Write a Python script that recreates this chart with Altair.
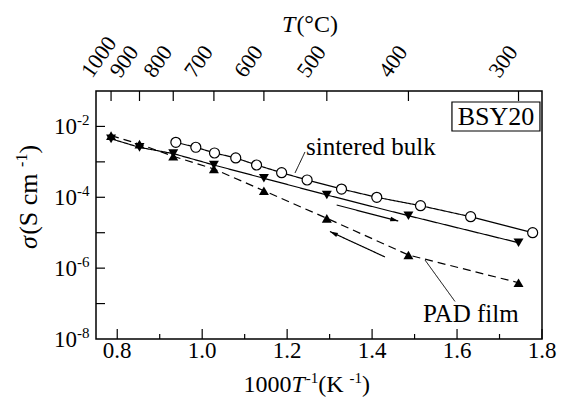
import altair as alt
import pandas as pd
import math

FONT = "Liberation Serif"
W, H = 446, 248
X0, X1 = 0.75, 1.8
LOG0, LOG1 = -8, -1
SX = W / (X1 - X0)
SY = H / (LOG1 - LOG0)

# ---------------- data ----------------
# sintered bulk (open circles)
bulk_x = [0.938, 0.985, 1.029, 1.079, 1.128, 1.187, 1.247, 1.328, 1.411, 1.514, 1.632, 1.778]
bulk_sigma = [3.56e-3, 2.58e-3, 1.78e-3, 1.29e-3, 8.15e-4, 4.94e-4, 3.08e-4,
              1.71e-4, 1.00e-4, 5.79e-5, 2.83e-5, 1.00e-5]

# PAD film, measured at these temperatures (deg C)
film_T = [1000, 900, 800, 700, 600, 500, 400, 300]
film_down_sigma = [4.47e-3, 2.57e-3, 1.71e-3, 8.15e-4, 3.44e-4, 1.16e-4, 3.02e-5, 5.22e-6]   # solid, down triangles
film_up_sigma = [5.50e-3, 3.16e-3, 1.44e-3, 6.28e-4, 1.53e-4, 2.55e-5, 2.35e-6, 3.88e-7]     # dashed, up triangles

# axes
top_T_ticks = [1000, 900, 800, 700, 600, 500, 400, 300]
x_major = [0.8, 1.0, 1.2, 1.4, 1.6, 1.8]
x_minor = [0.9, 1.1, 1.3, 1.5, 1.7]
y_label_exp = [-2, -4, -6, -8]
y_tick_exp = [-2, -3, -4, -5, -6, -7]

# annotations (data coordinates)
arrow_id = ["heat", "heat", "cool", "cool"]
arrow_x = [1.3166, 1.4616, 1.4303, 1.3007]
arrow_sigma = [6.05e-5, 2.14e-5, 2.07e-6, 1.08e-5]
leader_id = ["bulk", "bulk", "pad", "pad"]
leader_x = [1.242, 1.2185, 1.5245, 1.5951]
leader_sigma = [1.90e-3, 4.85e-4, 1.70e-6, 1.15e-7]
label_text = ["sintered bulk", "PAD film"]
label_x = [1.2443, 1.5198]
label_sigma = [2.62e-3, 5.08e-8]
box_text = ["BSY20"]
box_cx = [1.6916]
box_csigma = [1.85e-2]
box_x1, box_x2 = [1.588], [1.7952]
box_s1, box_s2 = [4.90e-2], [7.43e-3]

# ---------------- helpers ----------------
xs = alt.Scale(domain=[X0, X1], zero=False, nice=False)
ys = alt.Scale(type="log", domain=[1e-8, 1e-1], nice=False)


def tx(T):
    return 1000.0 / (T + 273.15)


def px2x(px):
    return X0 + px / SX


def py2s(py):
    return 10 ** (LOG1 - py / SY)


def XE(f="x"):
    return alt.X(f + ":Q", scale=xs, axis=None)


def YE(f="s"):
    return alt.Y(f + ":Q", scale=ys, axis=None)


# ---- all lines in one layer ----
line_rows = []
for i, (x, s) in enumerate(zip(bulk_x, bulk_sigma)):
    line_rows.append(dict(id="bulk", i=i, x=x, s=s, dash="solid", sw=1.2))
for i, (T, s) in enumerate(zip(film_T, film_down_sigma)):
    line_rows.append(dict(id="down", i=i, x=tx(T), s=s, dash="solid", sw=1.2))
for i, (T, s) in enumerate(zip(film_T, film_up_sigma)):
    line_rows.append(dict(id="up", i=i, x=tx(T), s=s, dash="dashed", sw=1.2))
for i, (k, x, s) in enumerate(zip(arrow_id, arrow_x, arrow_sigma)):
    line_rows.append(dict(id="arr_" + k, i=i, x=x, s=s, dash="solid", sw=1.2))
for i, (k, x, s) in enumerate(zip(leader_id, leader_x, leader_sigma)):
    line_rows.append(dict(id="lead_" + k, i=i, x=x, s=s, dash="solid", sw=1.0))
lines = alt.Chart(pd.DataFrame(line_rows)).mark_line(color="black").encode(
    x=XE(), y=YE(), detail="id:N", order="i:Q",
    strokeDash=alt.StrokeDash("dash:N", scale=alt.Scale(domain=["solid", "dashed"], range=[[1, 0], [8, 5]]),
                              legend=None),
    strokeWidth=alt.StrokeWidth("sw:Q", scale=None))

# ---- filled symbols (triangles + arrow heads) in one layer ----
HEAD = "M0,0L0.55,2L-0.55,2Z"
pt_rows = []
for T, s in zip(film_T, film_down_sigma):
    pt_rows.append(dict(x=tx(T), s=s, shape="triangle-down", size=100, ang=0))
for T, s in zip(film_T, film_up_sigma):
    pt_rows.append(dict(x=tx(T), s=s, shape="triangle-up", size=100, ang=0))
for i in range(0, len(arrow_x), 2):
    dxp = (arrow_x[i + 1] - arrow_x[i]) * SX
    dyp = -(math.log10(arrow_sigma[i + 1]) - math.log10(arrow_sigma[i])) * SY
    ang = math.degrees(math.atan2(dxp, -dyp)) % 360
    pt_rows.append(dict(x=arrow_x[i + 1], s=arrow_sigma[i + 1], shape=HEAD, size=64, ang=ang))
filled_pts = alt.Chart(pd.DataFrame(pt_rows)).mark_point(filled=True, color="black", opacity=1,
                                                         strokeWidth=0).encode(
    x=XE(), y=YE(), shape=alt.Shape("shape:N", scale=None), size=alt.Size("size:Q", scale=None),
    angle=alt.Angle("ang:Q", scale=None))

circles = alt.Chart(pd.DataFrame({"x": bulk_x, "s": bulk_sigma})).mark_point(
    shape="circle", filled=True, fill="white", stroke="black", strokeWidth=1.2, size=100, opacity=1
).encode(x=XE(), y=YE())

# ---- BSY20 box ----
box = alt.Chart(pd.DataFrame({"x1": box_x1, "x2": box_x2, "s1": box_s1, "s2": box_s2})).mark_rect(
    fill="white", stroke="black", strokeWidth=1.2).encode(x=XE("x1"), x2="x2:Q", y=YE("s1"), y2="s2:Q")

# ---- all inward ticks in one rule layer ----
rule_rows = []
for v in x_major:
    rule_rows.append(dict(x=v, x2=v, s=py2s(H), s2=py2s(H - 10)))
for v in x_minor:
    rule_rows.append(dict(x=v, x2=v, s=py2s(H), s2=py2s(H - 5)))
for e in y_tick_exp:
    rule_rows.append(dict(x=X0, x2=px2x(9), s=10.0 ** e, s2=10.0 ** e))
for T in top_T_ticks:
    rule_rows.append(dict(x=tx(T), x2=tx(T), s=py2s(0), s2=py2s(10)))
ticks = alt.Chart(pd.DataFrame(rule_rows)).mark_rule(color="black", strokeWidth=1.2).encode(
    x=XE(), x2="x2:Q", y=YE(), y2="s2:Q")

# ---- texts ----
WID = {'0': .5, '1': .5, '2': .5, '3': .5, '4': .5, '5': .5, '6': .5, '7': .5, '8': .5, '9': .5,
       '.': .25, ' ': .25, '(': .333, ')': .333, '-': .333, 'K': .722, 'S': .556, 'c': .444,
       'm': .778, 'C': .667, '°': .4, 'T': .556, 'σ': .55}

g_center, g_left, g_right, g_alpha, g_italic = [], [], [], [], []

# bottom tick labels
for v in x_major:
    g_center.append(dict(t=f"{v:.1f}", x=v, s=py2s(H + 12), size=23, ang=0))
# BSY20
for t, x, s in zip(box_text, box_cx, box_csigma):
    g_center.append(dict(t=t, x=x, s=s, size=26, ang=0))
# annotation labels
for t, x, s in zip(label_text, label_x, label_sigma):
    g_left.append(dict(t=t, x=x, s=s, size=25, ang=0))
# y tick labels: "10" + raised exponent
for e in y_label_exp:
    g_right.append(dict(t="10", x=px2x(-19), s=10.0 ** e * 10 ** (-1 / SY), size=23, ang=0))
    g_left.append(dict(t=str(e), x=px2x(-19), s=10.0 ** e * 10 ** (6 / SY), size=15, ang=0))
# rotated temperature labels
for T in top_T_ticks:
    g_alpha.append(dict(t=str(T), x=tx(T) - 19 / SX, s=py2s(-12), size=22, ang=305))


def add_runs(runs, cx, cy, angle=0):
    total = sum(sum(WID[c] for c in t) * sz + extra for t, sz, it, dy, extra in runs)
    pos = -total / 2
    for t, sz, it, dy, extra in runs:
        if angle == 0:
            px, py = cx + pos, cy + dy
        else:
            px, py = cx + dy, cy - pos
        row = dict(t=t, x=px2x(px), s=py2s(py), size=sz, ang=angle)
        (g_italic if it else g_alpha).append(row)
        pos += sum(WID[c] for c in t) * sz + extra


add_runs([("1000", 24, False, 0, 0), ("T", 24, True, 0, 1), ("-1", 15, False, -9, 0),
          (" (K", 24, False, 0, 0), ("-1", 15, False, -9, 0), (")", 24, False, 0, 0)], 210.7, 301)
add_runs([("T", 24, True, 0, 1), (" (°C)", 24, False, 0, 0)], 217, -59)
add_runs([("σ", 26, True, 0, 0), (" (S cm", 26, False, 0, 0), ("-1", 16, False, -10, 0),
          (")", 26, False, 0, 0)], -59.4, 106, angle=270)


def text_layer(rows, **kw):
    return alt.Chart(pd.DataFrame(rows)).mark_text(font=FONT, fill="black", **kw).encode(
        x=XE(), y=YE(), text="t:N", size=alt.Size("size:Q", scale=None),
        angle=alt.Angle("ang:Q", scale=None))


texts = [
    text_layer(g_center, align="center", baseline="middle"),
    text_layer(g_left, align="left", baseline="middle"),
    text_layer(g_right, align="right", baseline="middle"),
    text_layer(g_alpha, align="left", baseline="alphabetic"),
    text_layer(g_italic, align="left", baseline="alphabetic", fontStyle="italic"),
]

chart = alt.layer(lines, filled_pts, circles, box, ticks, *texts).properties(
    width=W, height=H,
    autosize=alt.AutoSizeParams(type="none"),
    padding={"left": 96, "top": 91, "right": 19, "bottom": 59},
    background="white",
).configure_view(stroke="black", strokeWidth=1.5)

chart.save("out.html", embed_options={"renderer": "svg", "actions": False})
